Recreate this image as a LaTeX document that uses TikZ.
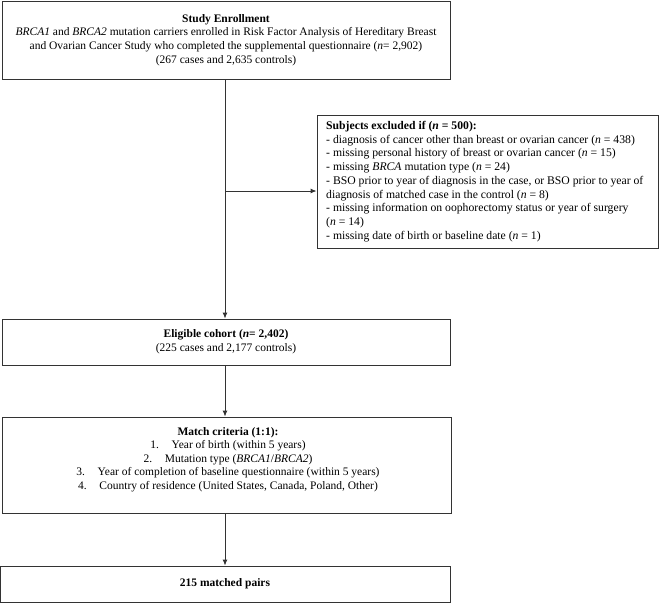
\documentclass[tikz,border=0pt]{standalone}
\usepackage{fontspec}
\setmainfont{Liberation Serif}
\usetikzlibrary{arrows.meta}
\begin{document}
\begin{tikzpicture}[x=1pt,y=-1pt,
  box/.style={draw=black!80,line width=0.9pt,inner sep=0pt,align=center},
  conn/.style={draw=black!80,line width=0.9pt,-{Latex[length=6pt,width=5pt]}},
  txt/.style={font=\fontsize{11.5}{13.6}\selectfont,align=center,inner sep=0pt}]
\useasboundingbox (0,0) rectangle (661,603);
\fill[white] (0,0) rectangle (661,603);
\node[box,minimum width=448pt,minimum height=78pt,txt] (enr) at (226,40)
 {\textbf{Study Enrollment}\\
 \textit{BRCA1} and \textit{BRCA2} mutation carriers enrolled in Risk Factor Analysis of Hereditary Breast\\
 and Ovarian Cancer Study who completed the supplemental questionnaire (\textit{n}= 2,902)\\
 (267 cases and 2,635 controls)};
\node[box,minimum width=341pt,minimum height=133pt] (exc) at (487.5,181.5) {};
\node[txt,align=left,anchor=north west,font=\fontsize{11.7}{13.75}\selectfont] (exct) at (326,121)
 {\textbf{Subjects excluded if (\textit{n} = 500):}\\
 - diagnosis of cancer other than breast or ovarian cancer (\textit{n} = 438)\\
 - missing personal history of breast or ovarian cancer (\textit{n} = 15)\\
 - missing \textit{BRCA} mutation type (\textit{n} = 24)\\
 - BSO prior to year of diagnosis in the case, or BSO prior to year of\\
 diagnosis of matched case in the control (\textit{n} = 8)\\
 - missing information on oophorectomy status or year of surgery\\
 (\textit{n} = 14)\\
 - missing date of birth or baseline date (\textit{n} = 1)};
\node[box,minimum width=448pt,minimum height=46pt,txt] (eli) at (226,342)
 {\textbf{Eligible cohort (\textit{n}= 2,402)}\\(225 cases and 2,177 controls)};
\node[box,minimum width=449pt,minimum height=96pt] (mat) at (226.5,465) {};
\node[txt,anchor=north,font=\fontsize{11.5}{13.5}\selectfont] (matt) at (228,427)
 {\textbf{Match criteria (1:1):}\\
 1.\hspace{1.1em}Year of birth (within 5 years)\\
 2.\hspace{1.1em}Mutation type (\textit{BRCA1}/\textit{BRCA2})\\
 3.\hspace{1.1em}Year of completion of baseline questionnaire (within 5 years)\\
 4.\hspace{1.1em}Country of residence (United States, Canada, Poland, Other)};
\node[box,minimum width=450pt,minimum height=36pt,txt] (fin) at (225,584)
 {\textbf{215 matched pairs}};
\coordinate (br) at (225,191);
\draw[conn] (enr.south -| br) -- (eli.north -| br);
\draw[conn] (br) -- (br -| exc.west);
\draw[conn] (eli.south -| br) -- (mat.north -| br);
\draw[conn] (mat.south -| br) -- (fin.north -| br);
\end{tikzpicture}
\end{document}
